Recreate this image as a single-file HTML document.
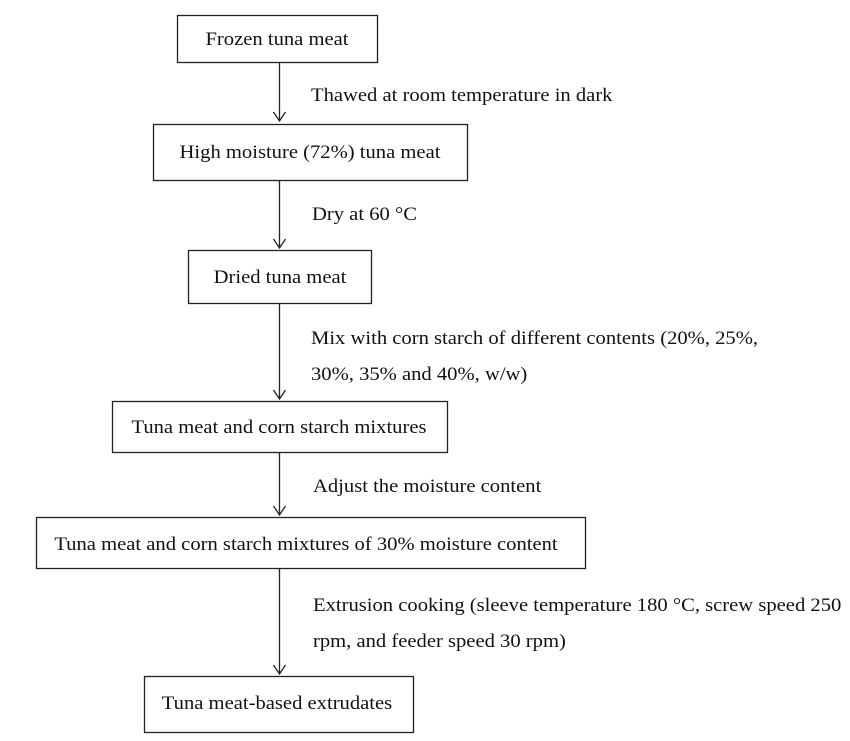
<!DOCTYPE html>
<html><head><meta charset="utf-8"><style>
body{margin:0;background:#fff;}
svg{display:block;font-family:"Liberation Serif",serif;font-size:19px;fill:#111;}
</style></head><body>
<svg width="850" height="741" viewBox="0 0 850 741">
<g stroke="#222" stroke-width="1.3" fill="none">
<rect x="177.5" y="15.5" width="200" height="47"/>
<rect x="153.5" y="124.5" width="314" height="56"/>
<rect x="188.5" y="250.5" width="183" height="53"/>
<rect x="112.5" y="401.5" width="335" height="51"/>
<rect x="36.5" y="517.5" width="549" height="51"/>
<rect x="144.5" y="676.5" width="269" height="56"/>
<g>
<path d="M279.5 62V121M273.5 112L279.5 121L285.5 112"/>
<path d="M279.5 180V248M273.5 239L279.5 248L285.5 239"/>
<path d="M279.5 303V399M273.5 390L279.5 399L285.5 390"/>
<path d="M279.5 452V515M273.5 506L279.5 515L285.5 506"/>
<path d="M279.5 568V674M273.5 665L279.5 674L285.5 665"/>
</g>
</g>
<g stroke="none" text-anchor="middle">
<text x="277" y="45" transform="translate(277,0) scale(1.085,1) translate(-277,0)">Frozen tuna meat</text>
<text x="310" y="158" transform="translate(310,0) scale(1.085,1) translate(-310,0)">High moisture (72%) tuna meat</text>
<text x="280" y="283" transform="translate(280,0) scale(1.085,1) translate(-280,0)">Dried tuna meat</text>
<text x="279" y="433" transform="translate(279,0) scale(1.085,1) translate(-279,0)">Tuna meat and corn starch mixtures</text>
<text x="306" y="550" transform="translate(306,0) scale(1.085,1) translate(-306,0)">Tuna meat and corn starch mixtures of 30% moisture content</text>
<text x="277" y="709" transform="translate(277,0) scale(1.085,1) translate(-277,0)">Tuna meat-based extrudates</text>
</g>
<g stroke="none">
<text x="311" y="101" transform="translate(311,0) scale(1.085,1) translate(-311,0)">Thawed at room temperature in dark</text>
<text x="312" y="220" transform="translate(312,0) scale(1.085,1) translate(-312,0)">Dry at 60 °C</text>
<text x="311" y="344" transform="translate(311,0) scale(1.085,1) translate(-311,0)">Mix with corn starch of different contents (20%, 25%,</text>
<text x="311" y="380" transform="translate(311,0) scale(1.085,1) translate(-311,0)">30%, 35% and 40%, w/w)</text>
<text x="313" y="492" transform="translate(313,0) scale(1.085,1) translate(-313,0)">Adjust the moisture content</text>
<text x="313" y="611" transform="translate(313,0) scale(1.085,1) translate(-313,0)">Extrusion cooking (sleeve temperature 180 °C, screw speed 250</text>
<text x="313" y="647" transform="translate(313,0) scale(1.085,1) translate(-313,0)">rpm, and feeder speed 30 rpm)</text>
</g>
</svg>
</body></html>
